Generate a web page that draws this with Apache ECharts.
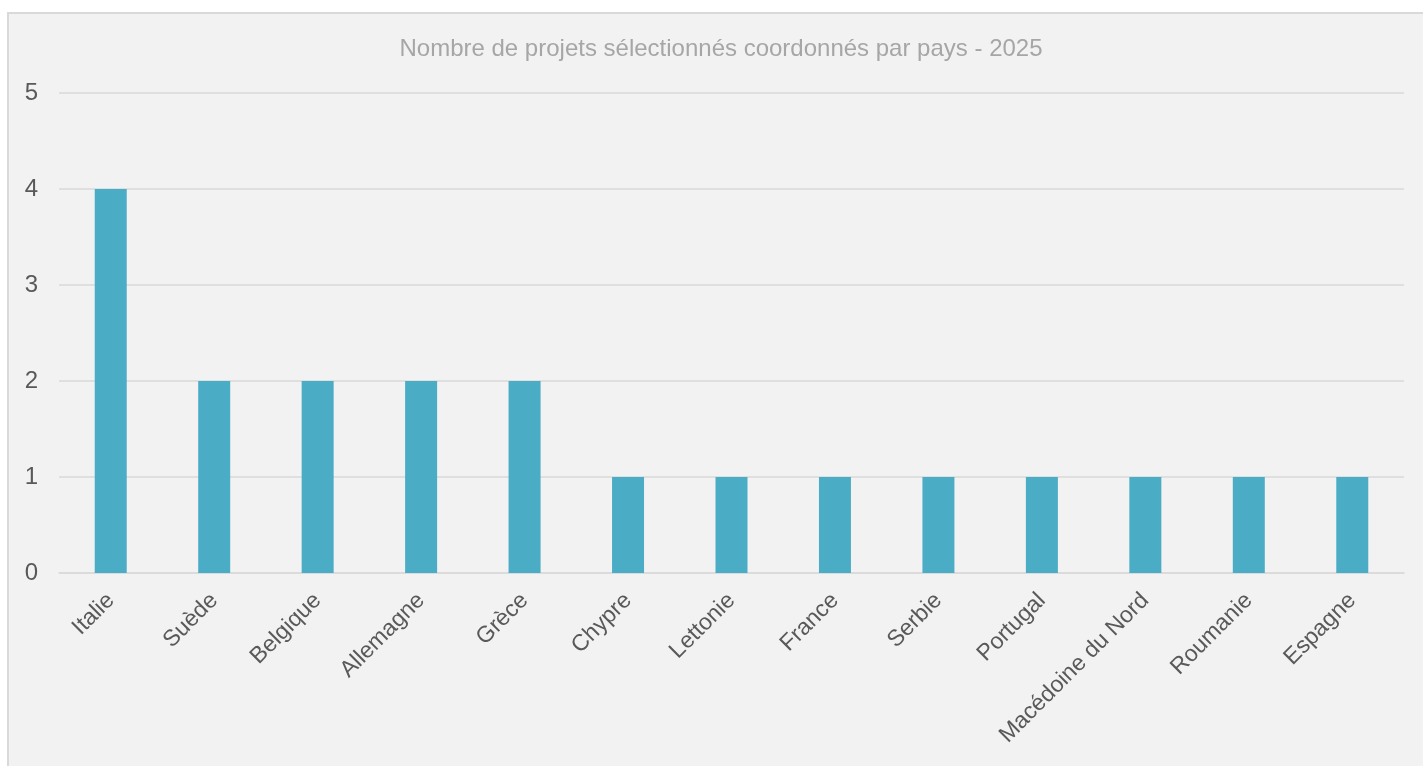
<!DOCTYPE html>
<html>
<head>
<meta charset="utf-8">
<script src="https://cdn.jsdelivr.net/npm/echarts@6/dist/echarts.min.js"></script>
<style>
html,body{margin:0;padding:0;background:#ffffff;width:1423px;height:766px;overflow:hidden;}
#box{position:absolute;left:7px;top:12px;width:1440px;height:780px;border:2px solid #d9d9d9;background:#f2f2f2;box-sizing:border-box;}
#chart{position:absolute;left:0;top:0;width:1423px;height:766px;}
</style>
</head>
<body>
<div id="box"></div>
<div id="chart"></div>
<script>
const titleText = 'Nombre de projets sélectionnés coordonnés par pays - 2025';
const categories = ['Italie','Suède','Belgique','Allemagne','Grèce','Chypre','Lettonie','France','Serbie','Portugal','Macédoine du Nord','Roumanie','Espagne'];
const values = [4,2,2,2,2,1,1,1,1,1,1,1,1];
const yTicks = [0,1,2,3,4,5];

const chart = echarts.init(document.getElementById('chart'), null, {renderer:'canvas'});
chart.setOption({
  backgroundColor: 'transparent',
  animation: false,
  textStyle: {fontFamily: 'Liberation Sans, Arial, sans-serif'},
  title: {
    text: titleText,
    left: 716, top: 32, textAlign: 'center',
    textStyle: {color:'#a6a6a6', fontSize: 24, fontWeight:'normal', fontFamily:'Liberation Sans, Arial, sans-serif'}
  },
  grid: {left: 59, right: 19, top: 93, bottom: 193, containLabel: false},
  xAxis: {
    type: 'category',
    data: categories,
    axisLine: {show: true, lineStyle: {color:'#d9d9d9', width: 1.5}},
    axisTick: {show: false},
    axisLabel: {rotate: 45, margin: 24, color:'#595959', fontSize: 23, interval: 0, fontFamily:'Liberation Sans, Arial, sans-serif'}
  },
  yAxis: {
    type: 'value',
    min: yTicks[0], max: yTicks[yTicks.length-1], interval: 1,
    axisLine: {show: false},
    axisTick: {show: false},
    splitLine: {lineStyle: {color:'#d9d9d9', width: 1.5}},
    axisLabel: {margin: 21, color:'#595959', fontSize: 24, padding: [3,0,0,0], fontFamily:'Liberation Sans, Arial, sans-serif'}
  },
  series: [{
    type: 'bar',
    data: values,
    barWidth: 32,
    itemStyle: {color: '#4bacc6'}
  }]
});
</script>
</body>
</html>
